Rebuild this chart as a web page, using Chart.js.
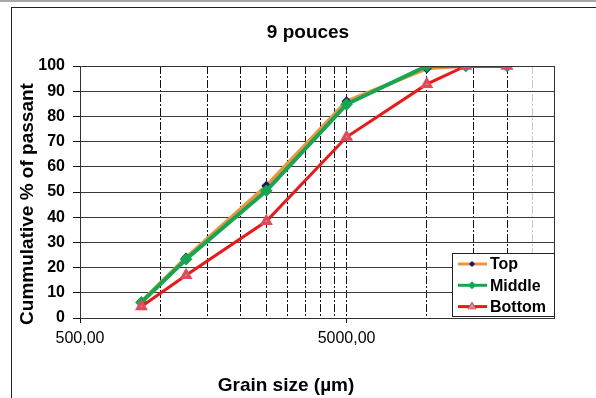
<!DOCTYPE html>
<html>
<head>
<meta charset="utf-8">
<script src="https://cdn.jsdelivr.net/npm/chart.js@4/dist/chart.umd.min.js"></script>
<style>
  html, body { margin: 0; padding: 0; background: #fff; }
  #wrap { position: relative; width: 596px; height: 398px; overflow: hidden; }
  #topband { position: absolute; left: 0; top: 0; width: 596px; height: 2px; background: #a8a8a8; }
  #frame { position: absolute; left: 11px; top: 7px; right: -2px; bottom: -2px; border-top: 1px solid #222; border-left: 1px solid #222; }
  canvas { position: absolute; left: 0; top: 0; }
</style>
</head>
<body>
<div id="wrap">
  <div id="topband"></div>
  <div id="frame"></div>
  <canvas id="grading" width="596" height="398"></canvas>
</div>
<script>
(function () {
	'use strict';

	// sieve openings (µm) and cumulative % passing for each layer
	const sieveSizes = [850, 1250, 2500, 5000, 10000, 14000, 20000];
	const topPassing = [6.5, 24, 52.5, 86, 99, 100, 100];
	const middlePassing = [6.2, 23.3, 50.5, 84.8, 100, 100, 100];
	const bottomPassing = [4.6, 17, 38.4, 71.8, 92.8, 100, 100];

	// log axis: gridlines like Excel's minor units, only two labelled ticks
	const gridSizes = [500, 1000, 1500, 2000, 2500, 3000, 3500, 4000, 4500, 5000, 10000, 15000, 20000, 25000, 30000];
	const xTickLabels = { 500: '500,00', 5000: '5000,00' };

	const chartTitle = '9 pouces';
	const xTitle = 'Grain size (µm)';
	const yTitle = 'Cummulative % of passant';

	const FONT = "'Liberation Sans', Arial, sans-serif";

	const toPoints = (values) => sieveSizes.map((size, i) => ({ x: size, y: values[i] }));

	const datasets = [
		{
			label: 'Top',
			data: toPoints(topPassing),
			borderColor: 'rgb(243, 145, 60)',
			backgroundColor: 'rgb(20, 20, 110)',
			pointBorderColor: 'rgb(20, 20, 110)',
			pointStyle: 'rectRot',
			pointRadius: 2.5,
			borderWidth: 3.5,
			order: 2
		},
		{
			label: 'Middle',
			data: toPoints(middlePassing),
			borderColor: 'rgb(18, 168, 82)',
			backgroundColor: 'rgb(18, 168, 82)',
			pointBorderColor: 'rgb(18, 168, 82)',
			pointStyle: 'rectRot',
			pointRadius: 3.5,
			borderWidth: 4,
			order: 1
		},
		{
			label: 'Bottom',
			data: toPoints(bottomPassing),
			borderColor: 'rgb(240, 22, 22)',
			backgroundColor: 'rgb(185, 152, 150)',
			pointBorderColor: 'rgb(232, 70, 90)',
			pointStyle: 'triangle',
			pointRadius: 4.5,
			borderWidth: 3,
			order: 0
		}
	];

	function drawMarker(ctx, ds, x, y) {
		ctx.save();
		ctx.fillStyle = ds.backgroundColor;
		ctx.strokeStyle = ds.pointBorderColor;
		ctx.lineWidth = 1;
		Chart.helpers.drawPoint(ctx, { pointStyle: ds.pointStyle, radius: ds.pointRadius, rotation: 0, borderWidth: 1 }, x, y);
		ctx.restore();
	}

	const decorations = {
		id: 'decorations',
		afterDraw(chart) {
			const ctx = chart.ctx;
			const area = chart.chartArea;

			// plot frame
			ctx.save();
			ctx.strokeStyle = '#333';
			ctx.lineWidth = 1;
			ctx.strokeRect(Math.round(area.left) + 0.5, Math.round(area.top) + 0.5,
				Math.round(area.right - area.left), Math.round(area.bottom - area.top));

			// titles
			ctx.fillStyle = '#000';
			ctx.font = 'bold 19px ' + FONT;
			ctx.textAlign = 'center';
			ctx.textBaseline = 'alphabetic';
			ctx.fillText(chartTitle, 308, 38);
			ctx.fillText(xTitle, 286, 391);
			ctx.save();
			ctx.translate(32.5, 204);
			ctx.rotate(-Math.PI / 2);
			ctx.fillText(yTitle, 0, 0);
			ctx.restore();

			// legend box, bottom right inside the plot
			const box = { x: 452, y: 253, w: area.right - 452, h: 63 };
			ctx.fillStyle = '#fff';
			ctx.fillRect(box.x, box.y, box.w, box.h);
			ctx.strokeStyle = '#222';
			ctx.strokeRect(box.x + 0.5, box.y + 0.5, box.w, box.h);
			ctx.font = 'bold 16px ' + FONT;
			ctx.textAlign = 'left';
			ctx.textBaseline = 'middle';
			chart.data.datasets.forEach((ds, i) => {
				const y = box.y + 11 + i * 21.3;
				ctx.strokeStyle = ds.borderColor;
				ctx.lineWidth = 3;
				ctx.beginPath();
				ctx.moveTo(box.x + 6, y);
				ctx.lineTo(box.x + 35, y);
				ctx.stroke();
				drawMarker(ctx, ds, box.x + 20, y);
				ctx.fillStyle = '#000';
				ctx.fillText(ds.label, box.x + 38, y + 1);
			});
			ctx.restore();
		}
	};

	new Chart(document.getElementById('grading'), {
		type: 'line',
		data: { datasets: datasets },
		plugins: [decorations],
		options: {
			responsive: false,
			animation: false,
			events: [],
			layout: { padding: { left: 0, right: 42, top: 66, bottom: 0 } },
			plugins: {
				legend: { display: false },
				title: { display: false },
				tooltip: { enabled: false }
			},
			elements: {
				line: { tension: 0 },
				point: { borderWidth: 1 }
			},
			scales: {
				x: {
					type: 'logarithmic',
					min: 500,
					max: 30000,
					afterBuildTicks: (scale) => {
						scale.ticks = gridSizes.map(value => ({ value: value }));
					},
					afterFit: (scale) => { scale.height = 80; },
					ticks: {
						autoSkip: false,
						maxRotation: 0,
						padding: 6,
						color: '#000',
						font: { family: FONT, size: 16 },
						callback: (value) => xTickLabels[value] || ''
					},
					grid: {
						color: (ctx) => {
							const v = ctx.tick && ctx.tick.value;
							if (v === 500 || v === 30000) return 'rgba(0,0,0,0)';
							if (v === 25000) return '#c8c8c8';
							return '#111';
						},
						tickColor: (ctx) => {
							const v = ctx.tick && ctx.tick.value;
							return (v === 500 || v === 5000) ? '#111' : 'rgba(0,0,0,0)';
						},
						tickLength: 5,
						lineWidth: 1
					},
					border: { display: true, color: '#333', width: 1, dash: [8, 2, 2, 2] }
				},
				y: {
					min: 0,
					max: 100,
					afterFit: (scale) => { scale.width = 80; },
					ticks: {
						stepSize: 10,
						padding: 8,
						color: '#000',
						font: { family: FONT, size: 16, weight: 'bold' }
					},
					grid: { color: '#3a3a3a', tickColor: '#111', tickLength: 7, lineWidth: 1 },
					border: { display: true, color: '#333', width: 1 }
				}
			}
		}
	});
})();
</script>
</body>
</html>
